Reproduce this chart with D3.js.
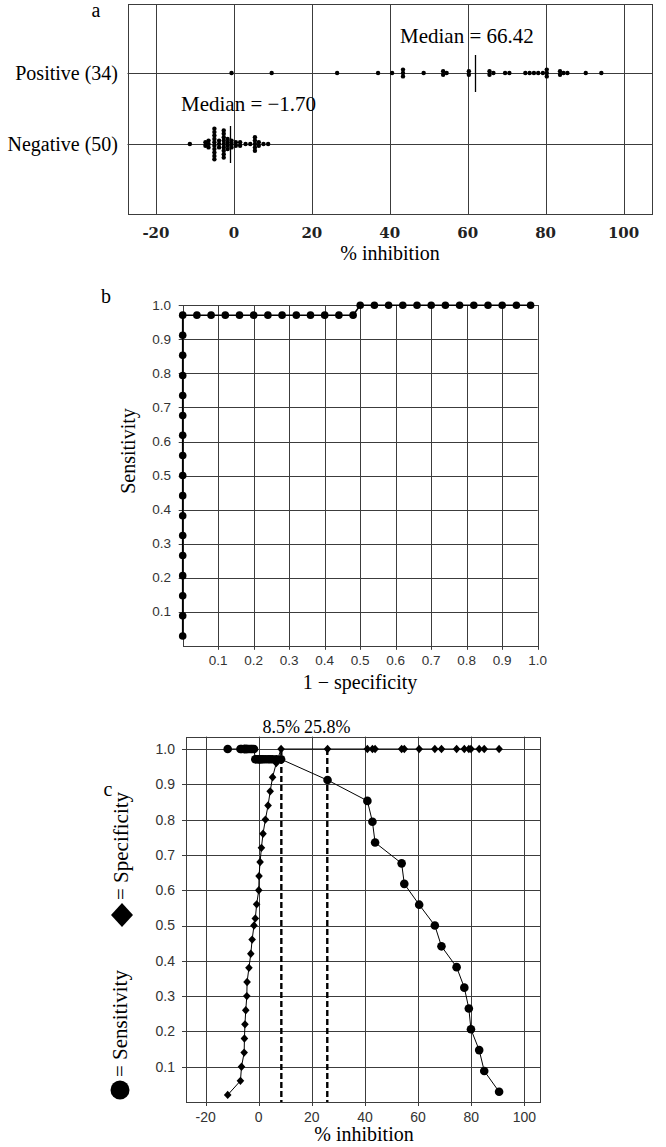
<!DOCTYPE html>
<html>
<head>
<meta charset="utf-8">
<script src="https://cdn.jsdelivr.net/npm/d3@7"></script>
<style>
  html, body { margin: 0; padding: 0; background: #fff; }
  svg { display: block; }
</style>
</head>
<body>
<svg id="chart"></svg>
<script>
// ---- panel a: dot plot of % inhibition ----
const rowLabels = ['Positive (34)', 'Negative (50)'];
const positiveValues = [-0.6, 9.7, 26.5, 37.0, 40.6, 43.4, 43.4, 43.4, 48.7, 53.7, 53.7, 54.6,
  60.3, 60.3, 65.6, 65.6, 66.6, 69.6, 70.7, 74.8, 75.9, 77.0, 78.1, 79.3, 80.3, 80.3, 80.3,
  83.7, 83.7, 84.6, 85.6, 90.3, 94.3];
const negativeValues = [-11.3, -7.3, -7.3, -6.5, -6.5, -6.5,
  -5.0, -5.0, -5.0, -5.0, -5.0, -5.0, -5.0, -5.0, -5.0, -5.0,
  -3.8, -3.8, -3.8,
  -2.6, -2.6, -2.6, -2.6, -2.6, -2.6, -2.6, -2.6, -2.6,
  -1.6, -1.6, -1.6, -1.6, -0.6, -0.6, -0.6, 0.5, 0.5, 1.6, 1.6, 3.0, 4.2,
  5.4, 5.4, 5.4, 5.4, 5.4, 6.4, 6.4, 7.6, 8.8];
const medianLabels = ['Median = 66.42', 'Median = \u22121.70'];
const medianMarks = [62.0, -0.9];
const inhibitionTicks = [-20, 0, 20, 40, 60, 80, 100];

// ---- panels b and c: cut-off thresholds ----
const thresholds = [-11.7, -6.9, -6.5, -5.5, -5.4, -5.2, -4.9, -4.5, -4.4, -3.7, -3.0, -2.5, -1.8,
  -1.3, -0.8, 0.0, 0.1, 0.5, 1.0, 1.6, 2.5, 3.5, 4.3, 5.2, 6.6, 8.4,
  25.9, 40.9, 42.8, 43.8, 53.8, 54.8, 60.4, 66.3, 68.8, 74.5, 77.4, 79.1, 79.9, 83.0, 84.9, 90.5];
const sensitivity = [1, 1, 1, 1, 1, 1, 1, 1, 1, 1, 1, 1, 1,
  0.971, 0.971, 0.971, 0.971, 0.971, 0.971, 0.971, 0.971, 0.971, 0.971, 0.971, 0.971, 0.971,
  0.912, 0.853, 0.794, 0.735, 0.676, 0.618, 0.559, 0.5, 0.441, 0.382, 0.324, 0.265, 0.206, 0.147, 0.088, 0.029];
const specificity = [0.02, 0.06, 0.10, 0.14, 0.18, 0.22, 0.26, 0.30, 0.34, 0.38, 0.42, 0.46, 0.50,
  0.52, 0.56, 0.60, 0.64, 0.68, 0.72, 0.76, 0.80, 0.84, 0.88, 0.92, 0.96, 1, 1,
  1, 1, 1, 1, 1, 1, 1, 1, 1, 1, 1, 1, 1, 1, 1];
const probTicks = [0.1, 0.2, 0.3, 0.4, 0.5, 0.6, 0.7, 0.8, 0.9, 1.0];
const cutoffs = [8.5, 25.8];
const cutoffLabels = ['8.5%', '25.8%'];

const W = 666, H = 1147;
const serif = '"Liberation Serif", "Times New Roman", serif';
const sans = '"Liberation Sans", Arial, sans-serif';
const gridColor = '#3c3c3c';
const px = v => Math.round(v) + 0.5;

const svg = d3.select('#chart').attr('width', W).attr('height', H);

function vGrid(g, scale, ticks, y1, y2) {
  g.append('g').selectAll('line').data(ticks).join('line')
    .attr('x1', d => px(scale(d))).attr('x2', d => px(scale(d)))
    .attr('y1', y1).attr('y2', y2)
    .attr('stroke', gridColor).attr('stroke-width', 1);
}
function hGrid(g, scale, ticks, x1, x2) {
  g.append('g').selectAll('line').data(ticks).join('line')
    .attr('y1', d => px(scale(d))).attr('y2', d => px(scale(d)))
    .attr('x1', x1).attr('x2', x2)
    .attr('stroke', gridColor).attr('stroke-width', 1);
}
function frame(g, x1, y1, x2, y2) {
  g.append('rect')
    .attr('x', px(x1)).attr('y', px(y1))
    .attr('width', Math.round(x2) - Math.round(x1)).attr('height', Math.round(y2) - Math.round(y1))
    .attr('fill', 'none').attr('stroke', gridColor).attr('stroke-width', 1);
}
// identical values stack vertically, centred on the row
function stackDots(values, row) {
  const out = [];
  d3.groups(values, d => d).forEach(([v, arr]) => {
    arr.forEach((_, i) => out.push({ v, row, k: i - (arr.length - 1) / 2 }));
  });
  return out;
}

// ================= panel a =================
const xA = d3.scaleLinear().domain([-27.3, 107.3]).range([127.5, 652]);
const yA = d3.scalePoint().domain(rowLabels).range([73, 144]);
const aTop = 4, aBottom = 214;
const gA = svg.append('g');

vGrid(gA, xA, inhibitionTicks, aTop, aBottom);
hGrid(gA, yA, rowLabels, xA.range()[0], xA.range()[1]);
frame(gA, xA.range()[0], aTop, xA.range()[1], aBottom);

gA.append('text').attr('x', 96).attr('y', 17).attr('text-anchor', 'middle')
  .style('font', `20px ${serif}`).text('a');

gA.selectAll('text.row').data(rowLabels).join('text').attr('class', 'row')
  .attr('x', 118).attr('y', d => yA(d)).attr('dy', '0.35em').attr('text-anchor', 'end')
  .style('font', `20px ${serif}`).text(d => d);

const dotsA = stackDots(positiveValues, rowLabels[0]).concat(stackDots(negativeValues, rowLabels[1]));
gA.selectAll('circle').data(dotsA).join('circle')
  .attr('cx', d => xA(d.v)).attr('cy', d => yA(d.row) + d.k * 3.4)
  .attr('r', 2.2).attr('fill', '#000');

gA.selectAll('line.med').data(medianMarks).join('line').attr('class', 'med')
  .attr('x1', d => px(xA(d))).attr('x2', d => px(xA(d)))
  .attr('y1', (d, i) => yA(rowLabels[i]) - 18).attr('y2', (d, i) => yA(rowLabels[i]) + 19)
  .attr('stroke', '#000').attr('stroke-width', 1.3);

gA.selectAll('text.med').data(medianLabels).join('text').attr('class', 'med')
  .attr('x', (d, i) => i === 0 ? 400 : 181).attr('y', (d, i) => i === 0 ? 43 : 111)
  .style('font', `21px ${serif}`).text(d => d);

gA.selectAll('text.tick').data(inhibitionTicks).join('text').attr('class', 'tick')
  .attr('x', d => xA(d)).attr('y', 238).attr('text-anchor', 'middle')
  .style('font', `bold 15px "DejaVu Serif", serif`).attr('fill', '#222').text(d => d);

gA.append('text').attr('x', 390).attr('y', 260).attr('text-anchor', 'middle')
  .style('font', `20px ${serif}`).text('% inhibition');

// ================= panel b =================
const xB = d3.scaleLinear().domain([0, 1]).range([182.7, 537.7]);
const yB = d3.scaleLinear().domain([0, 1]).range([645.8, 305.3]);
const gB = svg.append('g');

vGrid(gB, xB, probTicks, yB(1), yB(0) + 4);
hGrid(gB, yB, probTicks, xB(0) - 4, xB(1));
frame(gB, xB(0), yB(1), xB(1), yB(0));

gB.append('text').attr('x', 106).attr('y', 303).attr('text-anchor', 'middle')
  .style('font', `20px ${serif}`).text('b');

gB.selectAll('text.yt').data(probTicks).join('text').attr('class', 'yt')
  .attr('x', 171).attr('y', d => yB(d)).attr('dy', '0.35em').attr('text-anchor', 'end')
  .style('font', `13.5px ${sans}`).attr('fill', '#333').text(d => d.toFixed(1));
gB.selectAll('text.xt').data(probTicks).join('text').attr('class', 'xt')
  .attr('x', d => xB(d)).attr('y', 665).attr('text-anchor', 'middle')
  .style('font', `13.5px ${sans}`).attr('fill', '#333').text(d => d.toFixed(1));

gB.append('text').attr('x', 360).attr('y', 689).attr('text-anchor', 'middle')
  .style('font', `20px ${serif}`).text('1 \u2212 specificity');
gB.append('text').attr('transform', 'translate(128,451) rotate(-90)')
  .attr('text-anchor', 'middle').attr('dy', '0.35em')
  .style('font', `20px ${serif}`).text('Sensitivity');

const roc = thresholds.map((t, i) => ({ fpr: 1 - specificity[i], tpr: sensitivity[i] }));
gB.append('path').datum(roc)
  .attr('d', d3.line().x(d => xB(d.fpr)).y(d => yB(d.tpr)))
  .attr('fill', 'none').attr('stroke', '#000').attr('stroke-width', 1.6);
gB.selectAll('circle').data(roc).join('circle')
  .attr('cx', d => xB(d.fpr)).attr('cy', d => yB(d.tpr)).attr('r', 3.8).attr('fill', '#000');

// ================= panel c =================
const xC = d3.scaleLinear().domain([-27.4, 105.9]).range([186, 540]);
const yC = d3.scaleLinear().domain([0, 1]).range([1102, 749]);
const cTop = yC(1.035);
const gC = svg.append('g');

vGrid(gC, xC, inhibitionTicks, cTop, yC(0) + 4);
hGrid(gC, yC, probTicks, xC.range()[0] - 4, xC.range()[1]);
frame(gC, xC.range()[0], cTop, xC.range()[1], yC(0));

gC.append('text').attr('x', 108).attr('y', 796).attr('text-anchor', 'middle')
  .style('font', `20px ${serif}`).text('c');

gC.selectAll('text.yt').data(probTicks).join('text').attr('class', 'yt')
  .attr('x', 175).attr('y', d => yC(d)).attr('dy', '0.35em').attr('text-anchor', 'end')
  .style('font', `14px ${sans}`).attr('fill', '#333').text(d => d.toFixed(1));
gC.selectAll('text.xt').data(inhibitionTicks).join('text').attr('class', 'xt')
  .attr('x', d => xC(d)).attr('y', 1122).attr('text-anchor', 'middle')
  .style('font', `14px ${sans}`).attr('fill', '#333').text(d => d);
gC.append('text').attr('x', 364).attr('y', 1141).attr('text-anchor', 'middle')
  .style('font', `20px ${serif}`).text('% inhibition');

// cut-off lines
gC.selectAll('line.cut').data(cutoffs).join('line').attr('class', 'cut')
  .attr('x1', d => xC(d)).attr('x2', d => xC(d)).attr('y1', yC(1)).attr('y2', yC(0))
  .attr('stroke', '#000').attr('stroke-width', 2.4).attr('stroke-dasharray', '6,3');
gC.selectAll('text.cut').data(cutoffLabels).join('text').attr('class', 'cut')
  .attr('x', (d, i) => xC(cutoffs[i])).attr('y', 733).attr('text-anchor', 'middle')
  .style('font', `18px ${serif}`).text(d => d);

const diamond = s => `M0,${-s * 1.1}L${s},0L0,${s * 1.1}L${-s},0Z`;
const specPts = thresholds.map((t, i) => ({ t, v: specificity[i] }));
const sensPts = thresholds.map((t, i) => ({ t, v: sensitivity[i] }));
const lineC = d3.line().x(d => xC(d.t)).y(d => yC(d.v));

gC.append('path').datum(specPts).attr('d', lineC)
  .attr('fill', 'none').attr('stroke', '#000').attr('stroke-width', 1);
gC.append('path').datum(sensPts).attr('d', lineC)
  .attr('fill', 'none').attr('stroke', '#000').attr('stroke-width', 1);
gC.selectAll('path.dm').data(specPts).join('path').attr('class', 'dm')
  .attr('transform', d => `translate(${xC(d.t)},${yC(d.v)})`)
  .attr('d', diamond(3.8)).attr('fill', '#000');
gC.selectAll('circle').data(sensPts).join('circle')
  .attr('cx', d => xC(d.t)).attr('cy', d => yC(d.v)).attr('r', 4.3).attr('fill', '#000');

// legend along the y axis
gC.append('circle').attr('cx', 120).attr('cy', 1090).attr('r', 9.5).attr('fill', '#000');
gC.append('text').attr('transform', 'translate(120,1077) rotate(-90)').attr('dy', '0.35em')
  .style('font', `21px ${serif}`).text('= Sensitivity');
gC.append('path').attr('transform', 'translate(122,915)').attr('d', diamond(11)).attr('fill', '#000');
gC.append('text').attr('transform', 'translate(121,900) rotate(-90)').attr('dy', '0.35em')
  .style('font', `21px ${serif}`).text('= Specificity');
</script>
</body>
</html>
